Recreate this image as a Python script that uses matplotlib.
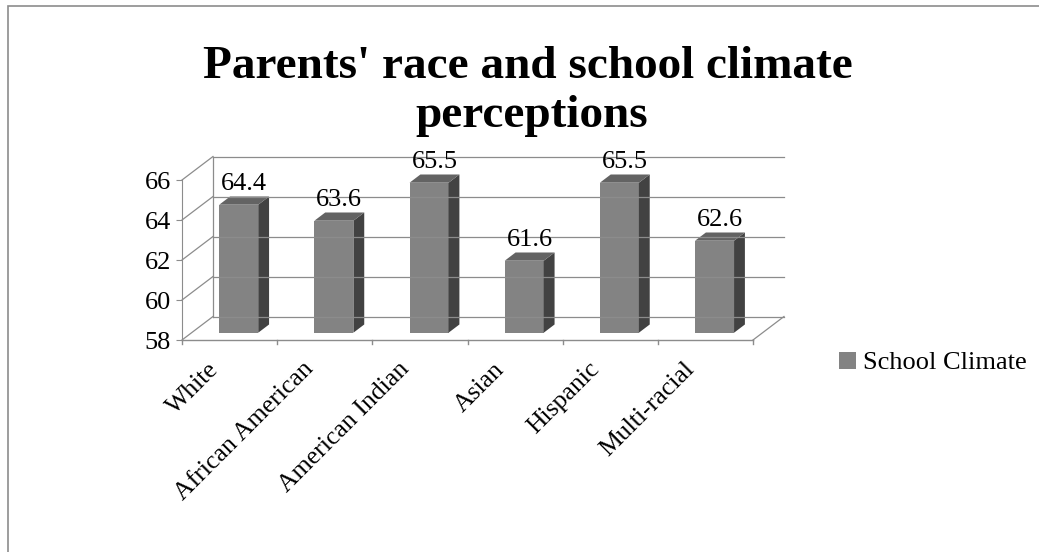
import matplotlib.pyplot as plt
from matplotlib.patches import Polygon, Rectangle, Patch

plt.rcParams['font.family'] = ['Liberation Serif', 'DejaVu Serif']

categories = ['White', 'African American', 'American Indian', 'Asian', 'Hispanic', 'Multi-racial']
values = [64.4, 63.6, 65.5, 61.6, 65.5, 62.6]
yticks = [58, 60, 62, 64, 66]
series_name = 'School Climate'
title_lines = ["Parents' race and school climate", 'perceptions']

W, H = 1039, 552
fig = plt.figure(figsize=(W / 100, H / 100), dpi=100)

# outer chart frame (only top/left edges fall inside the image)
fig.patches.append(Rectangle((7.5 / W, -0.1), 1.2, 1 - 5.5 / H + 0.1, transform=fig.transFigure,
                             fill=False, edgecolor='#8c8c8c', lw=1.2))

# axes placed in pixels: front plane x -0.5..5.5 -> px 182..753, value 58..66 -> px 340..180
px_x = (753 - 182) / 6.0
px_y = 20.0
left, right, top, bottom = 182, 790, 140, 345
ax = fig.add_axes([left / W, 1 - bottom / H, (right - left) / W, (bottom - top) / H])
ax.set_xlim(-0.5, -0.5 + (right - left) / px_x)
ax.set_ylim(58 - (bottom - 340) / px_y, 58 + (340 - top) / px_y)
for s in ['top', 'right', 'bottom']:
    ax.spines[s].set_visible(False)

# depth offset of the 3-D box
DX, DY = 31 / px_x, 23.5 / px_y
n = len(categories)
gcol = '#8c8c8c'

# back wall gridlines + left wall diagonals
for v in yticks:
    ax.plot([-0.5 + DX, n - 0.5 + DX], [v + DY, v + DY], color=gcol, lw=0.9, clip_on=False)
    ax.plot([-0.5, -0.5 + DX], [v, v + DY], color=gcol, lw=0.9, clip_on=False)
ax.plot([-0.5 + DX, -0.5 + DX], [yticks[0] + DY, yticks[-1] + DY], color=gcol, lw=0.9, clip_on=False)
# floor front and right edges
ax.plot([-0.5, n - 0.5], [58, 58], color=gcol, lw=1.0, clip_on=False)
ax.plot([n - 0.5, n - 0.5 + DX], [58, 58 + DY], color=gcol, lw=0.9, clip_on=False)
# category boundary ticks
for b in range(n + 1):
    ax.plot([b - 0.5, b - 0.5], [58, 58 - 4 / px_y], color=gcol, lw=1.0, clip_on=False)

# y axis
ax.spines['left'].set_bounds(58, 66)
ax.spines['left'].set_color(gcol)
ax.set_yticks(yticks)
ax.tick_params(axis='y', direction='out', length=4, color=gcol, labelsize=19, pad=4)
ax.set_xticks([])

# 3-D bars
d0, d1 = 0.31, 0.66
bw = 39 / px_x
ddx, ddy = (d1 - d0) * DX, (d1 - d0) * DY
for i, v in enumerate(values):
    x0 = i - bw / 2 + d0 * DX - 0.005
    x1 = x0 + bw
    y0 = 58 + d0 * DY
    y1 = v + d0 * DY
    ax.add_patch(Polygon([(x0, y0), (x1, y0), (x1, y1), (x0, y1)], closed=True,
                         facecolor='#838383', edgecolor='none', clip_on=False))
    ax.add_patch(Polygon([(x1, y0), (x1 + ddx, y0 + ddy), (x1 + ddx, y1 + ddy), (x1, y1)], closed=True,
                         facecolor='#424242', edgecolor='none', clip_on=False))
    ax.add_patch(Polygon([(x0, y1), (x1, y1), (x1 + ddx, y1 + ddy), (x0 + ddx, y1 + ddy)], closed=True,
                         facecolor='#636363', edgecolor='none', clip_on=False))
    ax.annotate(f'{v:.1f}', xy=((x0 + x1 + ddx) / 2, y1 + ddy), xytext=(0, 5), textcoords='offset points',
                ha='center', va='baseline', fontsize=19, annotation_clip=False)

# rotated category labels
for i, c in enumerate(categories):
    ax.annotate(c, xy=(i, 58), xytext=(-16, -13), textcoords='offset points', rotation=45,
                rotation_mode='anchor', ha='right', va='top', fontsize=18.5, annotation_clip=False)

# title
fig.text(528 / W, 1 - 78 / H, title_lines[0], ha='center', va='baseline', fontsize=34, fontweight='bold')
fig.text(532 / W, 1 - 127 / H, title_lines[1], ha='center', va='baseline', fontsize=34, fontweight='bold')

# legend
fig.legend(handles=[Patch(facecolor='#838383', edgecolor='none', label=series_name)],
           loc='center left', bbox_to_anchor=(839 / W, 1 - 363 / H), frameon=False, fontsize=19,
           handlelength=0.65, handleheight=0.62, handletextpad=0.25, borderpad=0, borderaxespad=0)

fig.savefig('out.png', dpi=100)
